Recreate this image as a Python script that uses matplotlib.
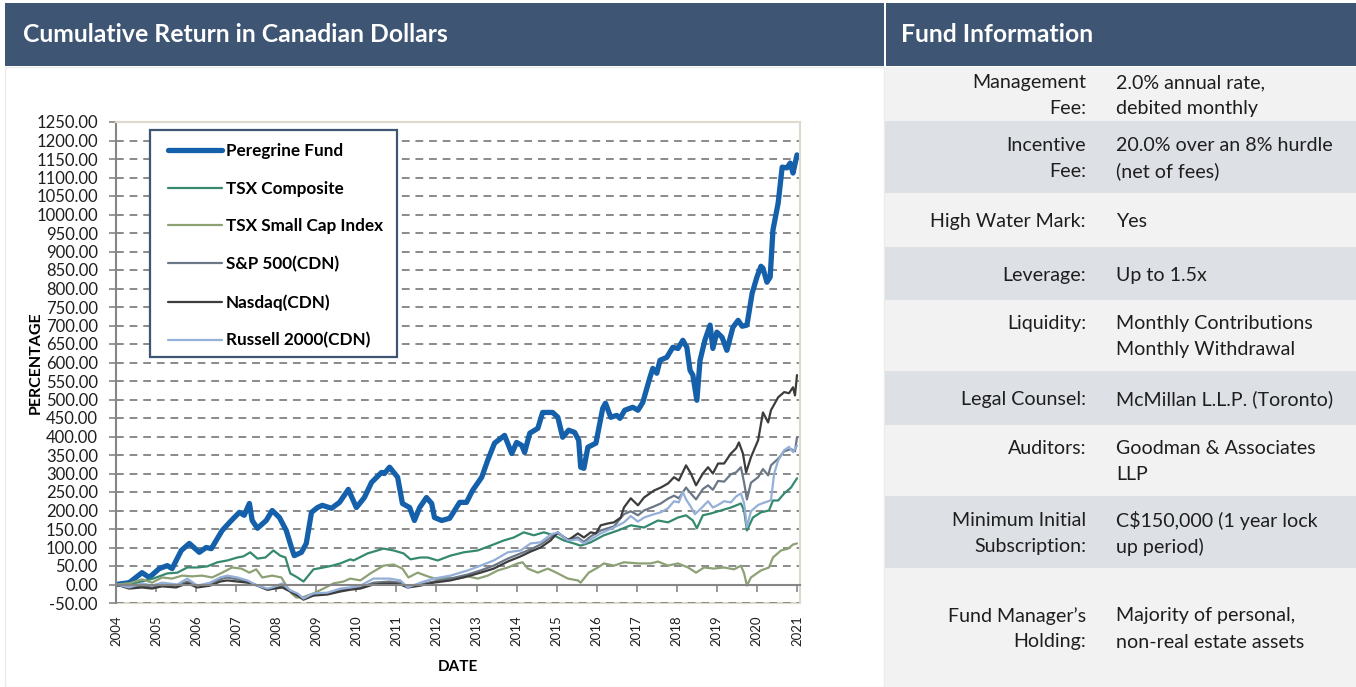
import numpy as np
import matplotlib
matplotlib.use("Agg")
import matplotlib.pyplot as plt
from matplotlib.patches import Rectangle
from matplotlib.ticker import FormatStrFormatter

W, H = 1356, 687

# ---- data (decimal years, cumulative % return) ----
peregrine_x = [2004.0, 2004.33, 2004.65, 2004.83, 2005.08, 2005.28, 2005.4, 2005.63, 2005.83, 2006.08,
               2006.25, 2006.38, 2006.65, 2006.88, 2007.08, 2007.2, 2007.33, 2007.4, 2007.53, 2007.75,
               2007.9, 2008.08, 2008.25, 2008.38, 2008.45, 2008.63, 2008.75, 2008.88, 2009.03, 2009.15,
               2009.38, 2009.58, 2009.8, 2010.0, 2010.2, 2010.38, 2010.63, 2010.7, 2010.83, 2011.03,
               2011.15, 2011.33, 2011.45, 2011.58, 2011.75, 2011.88, 2011.95, 2012.13, 2012.33, 2012.58,
               2012.75, 2012.9, 2013.13, 2013.28, 2013.45, 2013.7, 2013.88, 2014.0, 2014.13, 2014.2,
               2014.33, 2014.53, 2014.65, 2014.9, 2015.03, 2015.15, 2015.3, 2015.45, 2015.55, 2015.6,
               2015.68, 2015.78, 2015.98, 2016.15, 2016.22, 2016.35, 2016.5, 2016.58, 2016.7, 2016.9,
               2017.03, 2017.15, 2017.33, 2017.4, 2017.5, 2017.58, 2017.75, 2017.9, 2018.03, 2018.15,
               2018.25, 2018.33, 2018.4, 2018.5, 2018.58, 2018.7, 2018.83, 2018.9, 2019.0, 2019.13,
               2019.25, 2019.4, 2019.53, 2019.63, 2019.75, 2019.88, 2020.0, 2020.1, 2020.15, 2020.25,
               2020.33, 2020.4, 2020.53, 2020.63, 2020.75, 2020.83, 2020.9, 2021.0]
peregrine_y = [0, 5, 32, 19, 43, 51, 43, 92, 111, 87,
               100, 97, 146, 173, 195, 187, 219, 173, 152, 173,
               200, 181, 146, 100, 78, 87, 111, 195, 208, 214,
               206, 222, 257, 208, 235, 276, 303, 300, 317, 290,
               219, 208, 173, 208, 235, 219, 181, 173, 179, 222,
               222, 254, 290, 336, 382, 403, 354, 384, 376, 357,
               409, 422, 465, 465, 452, 398, 417, 411, 390, 317,
               314, 371, 382, 476, 490, 452, 457, 449, 471, 479,
               471, 492, 560, 584, 571, 606, 614, 641, 638, 660,
               641, 579, 566, 498, 606, 660, 701, 638, 682, 668,
               633, 695, 714, 698, 701, 787, 831, 860, 855, 817,
               831, 958, 1031, 1128, 1126, 1139, 1112, 1161]

tsx_x = [2004.0, 2004.53, 2004.93, 2005.28, 2005.53, 2005.78, 2006.03, 2006.28, 2006.53, 2006.78,
         2007.03, 2007.18, 2007.35, 2007.53, 2007.73, 2007.93, 2008.1, 2008.23, 2008.35, 2008.53,
         2008.68, 2008.93, 2009.18, 2009.4, 2009.6, 2009.85, 2009.93, 2010.28, 2010.68, 2010.93,
         2011.18, 2011.35, 2011.6, 2011.78, 2012.03, 2012.35, 2012.68, 2013.03, 2013.35, 2013.68,
         2013.93, 2014.18, 2014.43, 2014.68, 2014.93, 2015.18, 2015.43, 2015.6, 2015.85, 2016.18,
         2016.53, 2016.85, 2017.18, 2017.53, 2017.78, 2018.03, 2018.23, 2018.4, 2018.5, 2018.65,
         2018.85, 2019.1, 2019.35, 2019.6, 2019.68, 2019.75, 2019.9, 2020.1, 2020.3, 2020.4,
         2020.53, 2020.68, 2020.85, 2021.0]
tsx_y = [0, 5, 16, 30, 32, 46, 46, 49, 60, 65,
         73, 76, 87, 70, 73, 92, 78, 73, 30, 19,
         8, 41, 46, 51, 57, 68, 65, 84, 97, 92,
         84, 68, 73, 73, 65, 78, 87, 92, 105, 119,
         127, 141, 133, 141, 133, 119, 111, 105, 114, 133,
         146, 160, 154, 173, 168, 181, 187, 173, 152, 187,
         192, 200, 208, 219, 200, 146, 181, 195, 200, 227,
         227, 246, 262, 287]

small_x = [2004.0, 2004.33, 2004.65, 2004.9, 2005.15, 2005.4, 2005.65, 2005.9, 2006.15, 2006.4,
           2006.65, 2006.9, 2007.13, 2007.33, 2007.5, 2007.65, 2007.9, 2008.13, 2008.25, 2008.38,
           2008.5, 2008.65, 2008.93, 2009.18, 2009.43, 2009.68, 2009.85, 2010.1, 2010.35, 2010.68,
           2010.93, 2011.15, 2011.3, 2011.53, 2011.78, 2012.03, 2012.28, 2012.53, 2012.78, 2013.03,
           2013.28, 2013.53, 2013.78, 2014.03, 2014.15, 2014.28, 2014.53, 2014.78, 2015.03, 2015.28,
           2015.53, 2015.6, 2015.8, 2016.03, 2016.18, 2016.43, 2016.68, 2017.03, 2017.35, 2017.53,
           2017.78, 2018.03, 2018.28, 2018.48, 2018.68, 2018.93, 2019.18, 2019.43, 2019.6, 2019.68,
           2019.75, 2019.85, 2020.1, 2020.3, 2020.4, 2020.6, 2020.78, 2020.9, 2021.0]
small_y = [0, 3, 14, 5, 19, 16, 24, 22, 24, 19,
           32, 46, 43, 32, 41, 19, 24, 19, -3, -24,
           -35, -35, -24, -11, 3, 8, 16, 11, 30, 51,
           54, 43, 19, 32, 22, 14, 19, 16, 22, 16,
           24, 38, 46, 57, 60, 43, 32, 43, 30, 16,
           11, 5, 32, 46, 57, 51, 60, 57, 57, 62,
           51, 57, 46, 32, 46, 43, 46, 41, 51, 30,
           -3, 19, 38, 46, 73, 92, 97, 108, 111]

sp500_x = [2004.0, 2004.33, 2004.65, 2004.9, 2005.15, 2005.5, 2005.78, 2006.03, 2006.35, 2006.6,
           2006.78, 2007.03, 2007.28, 2007.53, 2007.78, 2008.15, 2008.35, 2008.53, 2008.68, 2008.93,
           2009.28, 2009.6, 2009.85, 2010.1, 2010.43, 2010.83, 2011.1, 2011.28, 2011.6, 2011.93,
           2012.35, 2012.78, 2013.1, 2013.43, 2013.78, 2014.1, 2014.35, 2014.6, 2014.85, 2015.03,
           2015.28, 2015.53, 2015.68, 2015.85, 2016.1, 2016.43, 2016.68, 2016.85, 2017.03, 2017.18,
           2017.43, 2017.6, 2017.78, 2017.93, 2018.05, 2018.23, 2018.35, 2018.48, 2018.65, 2018.78,
           2018.9, 2019.03, 2019.18, 2019.35, 2019.48, 2019.6, 2019.68, 2019.75, 2019.85, 2020.03,
           2020.15, 2020.28, 2020.35, 2020.53, 2020.68, 2020.85, 2020.95, 2021.0]
sp500_y = [0, -8, -3, -8, 0, -3, 8, -5, 3, 14,
           19, 14, 8, -3, -14, -5, -16, -27, -38, -27,
           -24, -14, -11, -8, 5, 8, 5, -8, 0, 8,
           16, 27, 38, 51, 70, 84, 95, 108, 127, 138,
           122, 127, 115, 130, 146, 157, 190, 198, 187, 200,
           211, 219, 232, 240, 233, 262, 246, 230, 258, 268,
           256, 280, 278, 298, 303, 317, 275, 230, 275, 290,
           312, 295, 322, 340, 360, 366, 360, 398]

nasdaq_x = [2004.0, 2004.33, 2004.65, 2004.9, 2005.15, 2005.5, 2005.78, 2006.03, 2006.35, 2006.6,
            2006.78, 2007.03, 2007.28, 2007.53, 2007.78, 2008.15, 2008.35, 2008.53, 2008.68, 2008.93,
            2009.28, 2009.6, 2009.85, 2010.1, 2010.43, 2010.83, 2011.1, 2011.28, 2011.6, 2011.93,
            2012.35, 2012.78, 2013.1, 2013.43, 2013.78, 2014.1, 2014.35, 2014.6, 2014.85, 2015.03,
            2015.28, 2015.53, 2015.68, 2015.85, 2015.98, 2016.1, 2016.28, 2016.43, 2016.6, 2016.68,
            2016.85, 2017.03, 2017.18, 2017.43, 2017.6, 2017.78, 2017.93, 2018.05, 2018.23, 2018.35,
            2018.48, 2018.65, 2018.78, 2018.9, 2019.03, 2019.18, 2019.35, 2019.48, 2019.55, 2019.65,
            2019.73, 2019.85, 2020.03, 2020.15, 2020.28, 2020.35, 2020.53, 2020.68, 2020.8, 2020.9,
            2020.95, 2021.0]
nasdaq_y = [0, -11, -8, -11, -5, -8, 3, -8, -3, 8,
            11, 8, 5, -3, -14, -8, -19, -30, -41, -30,
            -27, -19, -14, -11, 0, 3, 0, -8, -3, 5,
            11, 22, 32, 43, 62, 76, 89, 100, 119, 141,
            119, 138, 127, 141, 138, 160, 165, 168, 181, 208,
            233, 214, 235, 254, 262, 273, 290, 281, 322, 300,
            268, 300, 317, 300, 327, 327, 354, 368, 384, 354,
            303, 344, 390, 465, 438, 471, 506, 520, 517, 533,
            511, 566]

russell_x = [2004.0, 2004.33, 2004.65, 2004.9, 2005.15, 2005.53, 2005.78, 2006.03, 2006.35, 2006.6,
             2006.78, 2007.03, 2007.28, 2007.53, 2007.78, 2007.9, 2008.15, 2008.35, 2008.53, 2008.68,
             2008.93, 2009.28, 2009.6, 2009.85, 2010.1, 2010.43, 2010.83, 2011.1, 2011.28, 2011.6,
             2011.93, 2012.35, 2012.78, 2013.1, 2013.43, 2013.78, 2014.1, 2014.35, 2014.6, 2014.85,
             2015.03, 2015.28, 2015.53, 2015.68, 2015.85, 2016.1, 2016.43, 2016.68, 2016.85, 2017.03,
             2017.18, 2017.43, 2017.6, 2017.78, 2017.93, 2018.05, 2018.15, 2018.23, 2018.35, 2018.45,
             2018.6, 2018.78, 2018.9, 2019.03, 2019.18, 2019.35, 2019.48, 2019.6, 2019.68, 2019.75,
             2019.85, 2020.03, 2020.15, 2020.28, 2020.35, 2020.43, 2020.53, 2020.68, 2020.8, 2020.9,
             2021.0]
russell_y = [0, -8, 3, -3, 5, 0, 16, -3, 5, 19,
             24, 19, 11, -3, -11, -8, 3, -16, -24, -38,
             -24, -22, -11, -8, -3, 16, 16, 11, -8, 5,
             16, 24, 38, 51, 65, 87, 92, 111, 114, 135,
             141, 119, 122, 111, 122, 138, 154, 168, 185, 170,
             181, 190, 195, 206, 225, 222, 250, 230, 210, 190,
             205, 225, 208, 215, 225, 222, 238, 246, 220, 155,
             198, 215, 220, 225, 228, 300, 335, 363, 372, 358,
             375]

series_names = ["Peregrine Fund", "TSX Composite", "TSX Small Cap Index",
                "S&P 500(CDN)", "Nasdaq(CDN)", "Russell 2000(CDN)"]
series_x = [peregrine_x, tsx_x, small_x, sp500_x, nasdaq_x, russell_x]
series_y = [peregrine_y, tsx_y, small_y, sp500_y, nasdaq_y, russell_y]
series_colors = ["#1560AA", "#34896F", "#8DA175", "#6A7786", "#3C3C3C", "#94AFD8"]
series_widths = [3.8, 1.6, 1.6, 1.6, 1.6, 1.6]

years = list(range(2004, 2022))
y_ticks = list(range(-50, 1251, 50))

# ---- fund information table ----
info_labels = [("Management", "Fee:"), ("Incentive", "Fee:"), ("High Water Mark:",),
               ("Leverage:",), ("Liquidity:", ""), ("Legal Counsel:",),
               ("Auditors:", ""), ("Minimum Initial", "Subscription:"),
               ("Fund Manager\u2019s", "Holding:")]
info_values = [("2.0% annual rate,", "debited monthly"), ("20.0% over an 8% hurdle", "(net of fees)"),
               ("Yes",), ("Up to 1.5x",), ("Monthly Contributions", "Monthly Withdrawal"),
               ("McMillan L.L.P. (Toronto)",), ("Goodman & Associates", "LLP"),
               ("C$150,000 (1 year lock", "up period)"),
               ("Majority of personal,", "non-real estate assets")]
row_edges = [67, 121, 193, 247, 300, 371, 425, 496, 568, 687]

HEADER = "#3E5573"
GRID = "#8A8A8A"
AXIS = "#868686"
BEIGE = "#DDD9CC"
FONT = "Lato"

# plot area in pixels
AX_L, AX_R, AX_T, AX_B = 116, 800, 122, 603


def fx(px):
    return px / W


def fy(py):
    return 1 - py / H


def ax_x(px):
    return (px - AX_L) / (AX_R - AX_L)


def ax_y(py):
    return (AX_B - py) / (AX_B - AX_T)


def panel(x0, y0, w, h, **kw):
    fig.patches.append(Rectangle((fx(x0), fy(y0 + h)), w / W, h / H,
                                 transform=fig.transFigure, zorder=-5, **kw))


fig = plt.figure(figsize=(W / 100, H / 100), dpi=100)
fig.patch.set_facecolor("white")

# panel backgrounds
panel(5, 67, 879, 620, facecolor="white", edgecolor="#EBEBEB", lw=1)
panel(5, 3, 879, 63, facecolor=HEADER, edgecolor="none")
panel(886, 3, 470, 63, facecolor=HEADER, edgecolor="none")
fig.text(fx(23), fy(35), "Cumulative Return in Canadian Dollars", color="white",
         fontsize=17.8, fontweight="bold", family=FONT, va="center", ha="left")
fig.text(fx(901), fy(35), "Fund Information", color="white",
         fontsize=17.8, fontweight="bold", family=FONT, va="center", ha="left")

for i in range(len(row_edges) - 1):
    top, bot = row_edges[i], row_edges[i + 1]
    col = "#F2F2F2" if i % 2 == 0 else "#DDE0E5"
    panel(885, top, 471, bot - top, facecolor=col, edgecolor="none")
    centre = (top + bot) / 2 + 1.5
    n = max(len(info_labels[i]), len(info_values[i]))
    for j in range(n):
        yy = centre + (j - (n - 1) / 2) * 26
        if j < len(info_labels[i]):
            fig.text(fx(1086), fy(yy), info_labels[i][j], ha="right", va="center",
                     fontsize=14.1, family=FONT, color="#1E1E1E")
        if j < len(info_values[i]):
            fig.text(fx(1116), fy(yy), info_values[i][j], ha="left", va="center",
                     fontsize=14.1, family=FONT, color="#1E1E1E")

# ---- chart ----
ax = fig.add_axes([fx(AX_L), fy(AX_B), (AX_R - AX_L) / W, (AX_B - AX_T) / H])
ax.set_facecolor("white")
for name, xs, ys, c, lw in zip(series_names, series_x, series_y, series_colors, series_widths):
    ax.plot(xs, ys, color=c, lw=lw, label=name, solid_joinstyle="round", solid_capstyle="round")

ax.set_xlim(2004, 2021.075)
ax.set_ylim(-50, 1250)
ax.set_yticks(y_ticks)
ax.yaxis.set_major_formatter(FormatStrFormatter("%.2f"))
ax.grid(axis="y", color=GRID, lw=1.4, dashes=(4, 3))
ax.set_axisbelow(True)

# horizontal axis crosses at 0
ax.spines["bottom"].set_position(("data", 0))
ax.spines["bottom"].set_color(AXIS)
ax.spines["bottom"].set_linewidth(1.5)
ax.spines["left"].set_color(AXIS)
ax.spines["left"].set_linewidth(1.5)
for s in ("top", "right"):
    ax.spines[s].set_color(BEIGE)
    ax.spines[s].set_linewidth(1.5)
ax.set_xticks(years)
ax.tick_params(axis="x", direction="out", length=5, width=1.2, color=AXIS, labelbottom=False)
ax.tick_params(axis="y", direction="out", length=5, width=1.2, color=AXIS, pad=8,
               labelsize=12, labelcolor="#1E1E1E")
for lbl in ax.get_yticklabels():
    lbl.set_family(FONT)

sec = ax.secondary_xaxis("bottom")
sec.set_xticks(years)
sec.spines["bottom"].set_color(BEIGE)
sec.spines["bottom"].set_linewidth(1.5)
sec.tick_params(length=0, pad=9, labelsize=9.5, labelrotation=90, labelcolor="#1E1E1E")
for lbl in sec.get_xticklabels():
    lbl.set_family(FONT)
sec.set_xlabel("DATE", fontsize=11, fontweight="bold", family=FONT, labelpad=10)
ax.set_ylabel("PERCENTAGE", fontsize=11.5, fontweight="bold", family=FONT)
ax.yaxis.set_label_coords(ax_x(43), 0.5)

# legend: framed box plus the entries inside it
ax.add_patch(Rectangle((ax_x(150), ax_y(357)), ax_x(397) - ax_x(150), ax_y(130) - ax_y(357),
                       transform=ax.transAxes, facecolor="white", edgecolor=HEADER,
                       lw=1.6, zorder=4.5))
leg = ax.legend(loc="upper left", bbox_to_anchor=(ax_x(168), ax_y(143)),
                borderaxespad=0, borderpad=0, frameon=False,
                handlelength=3.15, handletextpad=0.25, labelspacing=1.27,
                prop={"family": FONT, "weight": "bold", "size": 12.3})
leg.set_zorder(5)

fig.savefig("out.png", dpi=100)
